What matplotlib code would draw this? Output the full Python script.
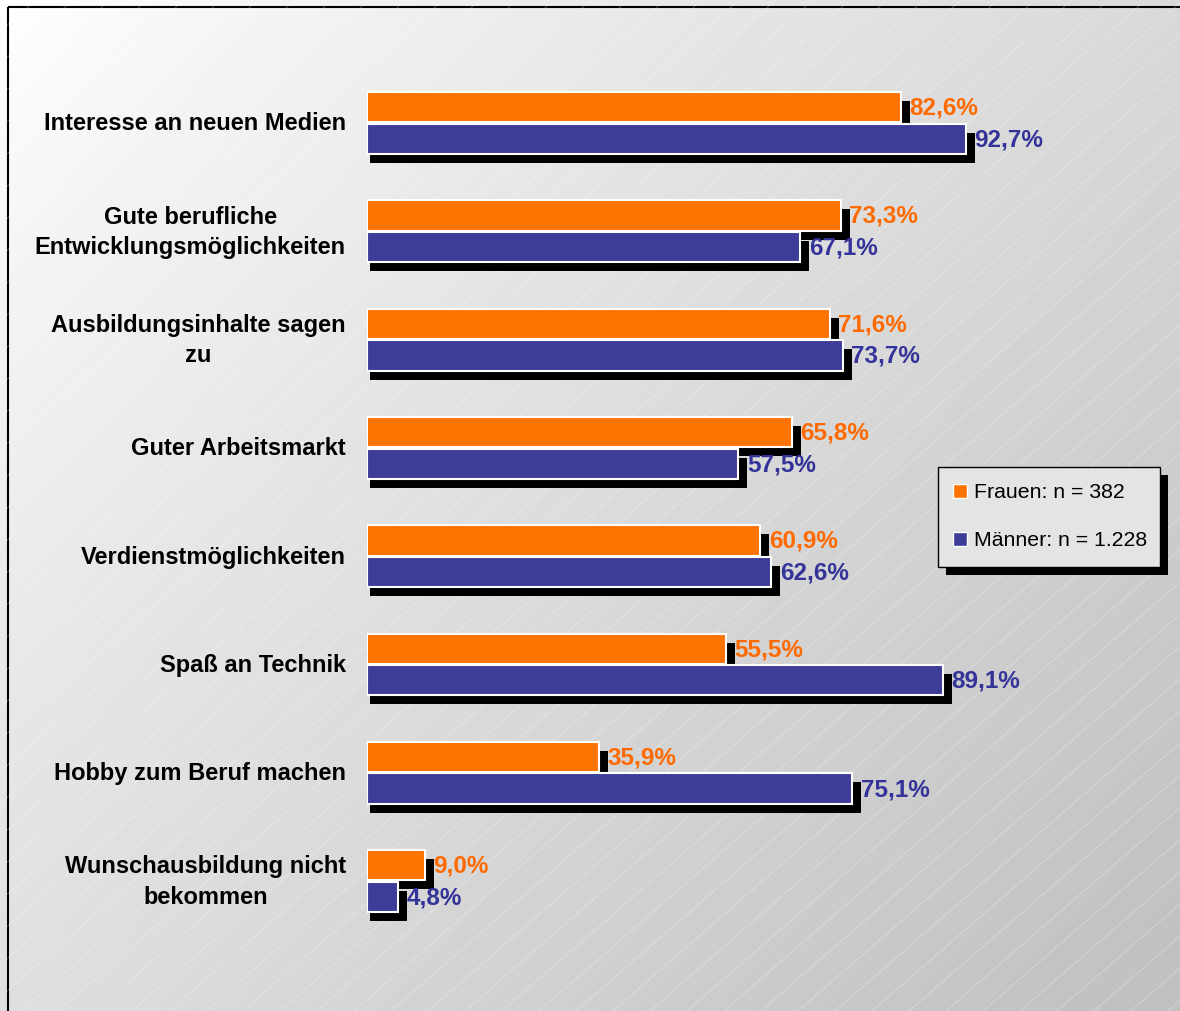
import numpy as np
import matplotlib.pyplot as plt
from matplotlib.patches import Rectangle

plt.rcParams['font.family'] = ['Liberation Sans', 'DejaVu Sans']

# chart data
categories = [
    "Interesse an neuen Medien",
    "Gute berufliche\nEntwicklungsmöglichkeiten",
    "Ausbildungsinhalte sagen\nzu",
    "Guter Arbeitsmarkt",
    "Verdienstmöglichkeiten",
    "Spaß an Technik",
    "Hobby zum Beruf machen",
    "Wunschausbildung nicht\nbekommen",
]
frauen = [82.6, 73.3, 71.6, 65.8, 60.9, 55.5, 35.9, 9.0]
maenner = [92.7, 67.1, 73.7, 57.5, 62.6, 89.1, 75.1, 4.8]
legend_labels = ["Frauen: n = 382", "Männer: n = 1.228"]

ORANGE = "#ff7300"
BLUE = "#3d3d99"
ORANGE_TXT = "#ff6a00"
BLUE_TXT = "#333399"

W, H = 1180, 1012
fig = plt.figure(figsize=(W / 100, H / 100), dpi=100)

# background: diagonal gradient with thin white diagonal lines
bg = fig.add_axes([0, 0, 1, 1], zorder=0)
bg.axis("off")
xx, yy = np.meshgrid(np.linspace(0, 1, 300), np.linspace(0, 1, 260))
shade = 1.0 - 0.25 * (0.55 * xx + 0.45 * yy) ** 0.85
bg.imshow(shade, cmap="gray", vmin=0, vmax=1, extent=[0, W, H, 0],
          aspect="auto", interpolation="bilinear")
slope = 0.87
for x0 in np.arange(-1200, W + 100, 37):
    xs = np.array([x0, x0 + 1300])
    bg.plot(xs, H - slope * (xs - x0), color="white", lw=0.7, alpha=0.28)
bg.set_xlim(0, W)
bg.set_ylim(H, 0)
bg.add_patch(Rectangle((8, 8), W + 20, H + 20, fill=False, ec="black", lw=1.5))

# legend box with shadow
lx, ly, lw_, lh = 938, 468, 222, 100
bg.add_patch(Rectangle((lx + 8, ly + 8), lw_, lh, fc="black", ec="none", zorder=3))
bg.add_patch(Rectangle((lx, ly), lw_, lh, fc="#e4e4e4", ec="black", lw=1, zorder=4))
for k, (lab, col) in enumerate(zip(legend_labels, [ORANGE, BLUE])):
    yc = ly + 24 + k * 48
    bg.add_patch(Rectangle((lx + 15, yc - 7), 14, 14, fc=col, ec="white", lw=1, zorder=5))
    bg.text(lx + 36, yc, lab, fontsize=15.3, va="center", ha="left", zorder=5)

# bars
ax = fig.add_axes([367 / W, 0, 1 - 367 / W, 1], zorder=1)
ax.patch.set_alpha(0)
px_x = 6.46            # pixels per percent
px_y = 108.3           # pixels per category
ax.set_xlim(0, (W - 367) / px_x)
ax.set_ylim((H - 124) / px_y, -124 / px_y)
ax.axis("off")

pos = np.arange(len(categories))
off = 0.146
h = 0.28
dx = 9 / px_x
dy = 9 / px_y

for vals, sign, col, tcol in [(frauen, -1, ORANGE, ORANGE_TXT), (maenner, 1, BLUE, BLUE_TXT)]:
    yc = pos + sign * off
    ax.barh(yc + dy, np.array(vals) + dx - 0.5, left=0.5, height=h,
            color="black", zorder=2)
    ax.barh(yc, vals, height=h, color=col, edgecolor="white", linewidth=1.5, zorder=3)
    for y, v in zip(yc, vals):
        ax.text(v + 1.3, y, f"{v:.1f}%".replace(".", ","), color=tcol,
                fontsize=17.5, fontweight="bold", va="center", ha="left", zorder=4)

for y, lab in zip(pos, categories):
    ax.text(-21 / px_x, y, lab, ha="right", va="center", multialignment="center",
            fontsize=17, fontweight="bold", color="black", linespacing=1.42,
            clip_on=False)

fig.savefig("out.png", dpi=100)
